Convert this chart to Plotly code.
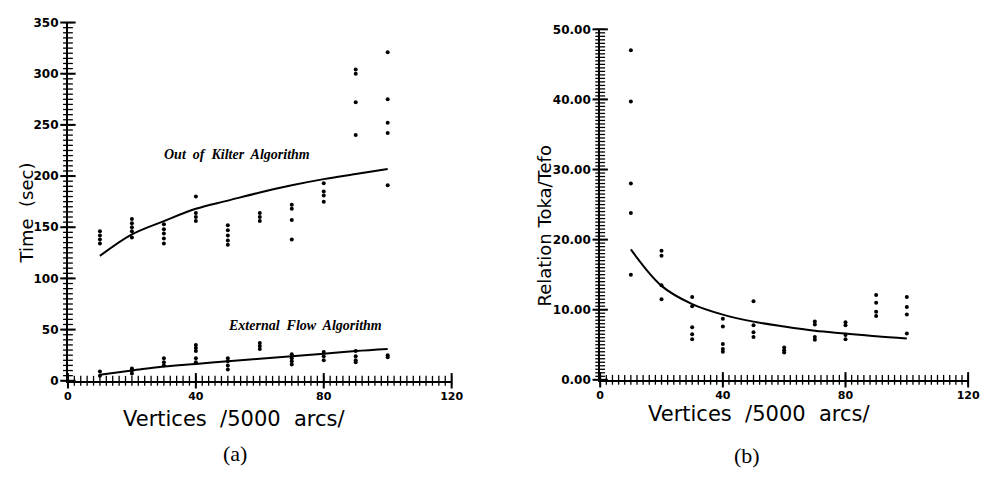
import plotly.graph_objects as go

# ---------------- data ----------------
# (a) Out of Kilter Algorithm: time (sec) per vertex count
oka_x = [10]*4 + [20]*5 + [30]*5 + [40]*4 + [50]*5 + [60]*3 + [70]*4 + [80]*4 + [90]*4 + [100]*5
oka_y = [146, 142, 138, 134,
         158, 154, 150, 146, 140,
         153, 148, 144, 139, 134,
         180, 164, 160, 156,
         152, 147, 142, 137, 133,
         164, 160, 156,
         172, 168, 157, 138,
         193, 185, 181, 175,
         304, 300, 272, 240,
         321, 275, 252, 242, 191]
oka_fit_x = [10, 20, 30, 40, 50, 60, 70, 80, 90, 100]
oka_fit_y = [122, 143, 156, 168, 176, 184, 191, 197, 202, 207]

# (a) External Flow Algorithm
efa_x = [10]*2 + [20]*3 + [30]*3 + [40]*5 + [50]*4 + [60]*3 + [70]*4 + [80]*3 + [90]*4 + [100]*2
efa_y = [9, 5,
         12, 10, 7,
         22, 18, 15,
         35, 32, 29, 22, 18,
         22, 19, 15, 11,
         37, 34, 31,
         26, 22, 19, 16,
         28, 24, 20,
         29, 24, 20, 18,
         25, 23]
efa_fit_x = [10, 20, 30, 40, 50, 60, 70, 80, 90, 100]
efa_fit_y = [6, 10, 14, 16.5, 19, 21.5, 24, 26.5, 29, 31]

# (b) Relation Toka/Tefo
rel_x = [10]*5 + [20]*4 + [30]*5 + [40]*5 + [50]*4 + [60]*3 + [70]*4 + [80]*4 + [90]*4 + [100]*4
rel_y = [47.0, 39.7, 28.0, 23.8, 15.0,
         18.4, 17.7, 13.5, 11.5,
         11.8, 10.5, 7.5, 6.5, 5.8,
         8.7, 7.6, 5.1, 4.4, 4.0,
         11.2, 7.8, 6.8, 6.1,
         4.6, 4.2, 3.9,
         8.3, 7.9, 6.1, 5.7,
         8.2, 7.8, 6.4, 5.8,
         12.1, 11.0, 9.7, 9.1,
         11.8, 10.4, 9.3, 6.6]
rel_fit_x = [10, 20, 30, 40, 50, 60, 70, 80, 90, 100]
rel_fit_y = [18.6, 13.4, 10.8, 9.3, 8.3, 7.6, 7.0, 6.6, 6.2, 5.9]

# axis ticks (values)
x_major = [0, 40, 80, 120]
x_minor = list(range(0, 121, 2))
left_y_major = [0, 50, 100, 150, 200, 250, 300, 350]
left_y_minor = list(range(0, 351, 5))
right_y_major = [0, 10, 20, 30, 40, 50]
right_y_minor = [v / 2 for v in range(0, 101)]

# ---------------- figure ----------------
W, H = 989, 480
def fx(px): return px / W
def fy(py): return 1 - py / H

fig = go.Figure()
dot = dict(color="black", size=4)
line = dict(color="black", width=2, shape="spline")

fig.add_trace(go.Scatter(x=oka_x, y=oka_y, mode="markers", marker=dot, xaxis="x", yaxis="y"))
fig.add_trace(go.Scatter(x=oka_fit_x, y=oka_fit_y, mode="lines", line=line, xaxis="x", yaxis="y"))
fig.add_trace(go.Scatter(x=efa_x, y=efa_y, mode="markers", marker=dot, xaxis="x", yaxis="y"))
fig.add_trace(go.Scatter(x=efa_fit_x, y=efa_fit_y, mode="lines", line=line, xaxis="x", yaxis="y"))
fig.add_trace(go.Scatter(x=rel_x, y=rel_y, mode="markers", marker=dot, xaxis="x2", yaxis="y2"))
fig.add_trace(go.Scatter(x=rel_fit_x, y=rel_fit_y, mode="lines", line=line, xaxis="x2", yaxis="y2"))

# tick marks drawn as markers on the axes (crossing the axis line, as in the scan)
def tick_trace(xs, ys, symbol, size, width, xa, ya):
    fig.add_trace(go.Scatter(x=xs, y=ys, mode="markers", xaxis=xa, yaxis=ya,
                             cliponaxis=False, hoverinfo="skip",
                             marker=dict(symbol=symbol, size=size, color="black",
                                         line=dict(width=width, color="black"))))

for xa, ya, ymaj, ymin in [("x", "y", left_y_major, left_y_minor),
                           ("x2", "y2", right_y_major, right_y_minor)]:
    tick_trace(x_minor, [0]*len(x_minor), "line-ns-open", 7, 1.3, xa, ya)
    tick_trace(x_major, [0]*len(x_major), "line-ns-open", 11, 2, xa, ya)
    tick_trace([0]*len(ymin), ymin, "line-ew-open", 7, 1.3, xa, ya)
    tick_trace([0]*len(ymaj), ymaj, "line-ew-open", 11, 2, xa, ya)

ytickfont = dict(family="DejaVu Sans", size=12, color="black", weight="bold")
common_x = dict(range=[0, 120], tickmode="array", tickvals=x_major,
                showgrid=False, zeroline=False,
                showline=True, linecolor="black", linewidth=2,
                ticks="", ticklabelstandoff=4,
                tickfont=dict(family="DejaVu Sans", size=11, color="black", weight="bold"))

fig.update_layout(
    template="simple_white",
    width=W, height=H,
    margin=dict(l=0, r=0, t=0, b=0),
    paper_bgcolor="white", plot_bgcolor="white",
    showlegend=False,
    xaxis=dict(domain=[fx(65), fx(455)], anchor="y", **common_x),
    yaxis=dict(domain=[fy(385), fy(16)], anchor="x", range=[0, 350],
               tickmode="array", tickvals=left_y_major,
               showgrid=False, zeroline=False, showline=True, linecolor="black", linewidth=2,
               ticks="", ticklabelstandoff=5, tickfont=ytickfont),
    xaxis2=dict(domain=[fx(606), fx(980)], anchor="y2", **common_x),
    yaxis2=dict(domain=[fy(384), fy(23)], anchor="x2", range=[0, 50],
                tickmode="array", tickvals=right_y_major, tickformat=".2f",
                showgrid=False, zeroline=False, showline=True, linecolor="black", linewidth=2,
                ticks="", ticklabelstandoff=5, tickfont=ytickfont),
)

ann = []
title_font = dict(family="DejaVu Sans", size=18, color="black")
def add(text, px, py, font, angle=0):
    ann.append(dict(text=text, x=fx(px), y=fy(py), xref="paper", yref="paper",
                    xanchor="center", yanchor="middle", textangle=angle,
                    showarrow=False, font=font))

add("Time  (sec)", 23, 212, title_font, -90)
add("Relation Toka/Tefo", 549, 225, title_font, -90)
add("Vertices  /5000  arcs/", 234, 424, dict(family="DejaVu Sans", size=21, color="black"))
add("Vertices  /5000  arcs/", 768, 419, dict(family="DejaVu Sans", size=21, color="black"))
add("<b><i>Out  of  Kilter  Algorithm</i></b>", 237, 152,
    dict(family="Liberation Serif", size=14, color="black"))
add("<b><i>External  Flow  Algorithm</i></b>", 306, 328,
    dict(family="Liberation Serif", size=14, color="black"))
add("(a)", 235, 460, dict(family="Liberation Serif", size=22, color="black"))
add("(b)", 755, 462, dict(family="Liberation Serif", size=22, color="black"))
fig.update_layout(annotations=ann)

fig.write_html("out.html")
